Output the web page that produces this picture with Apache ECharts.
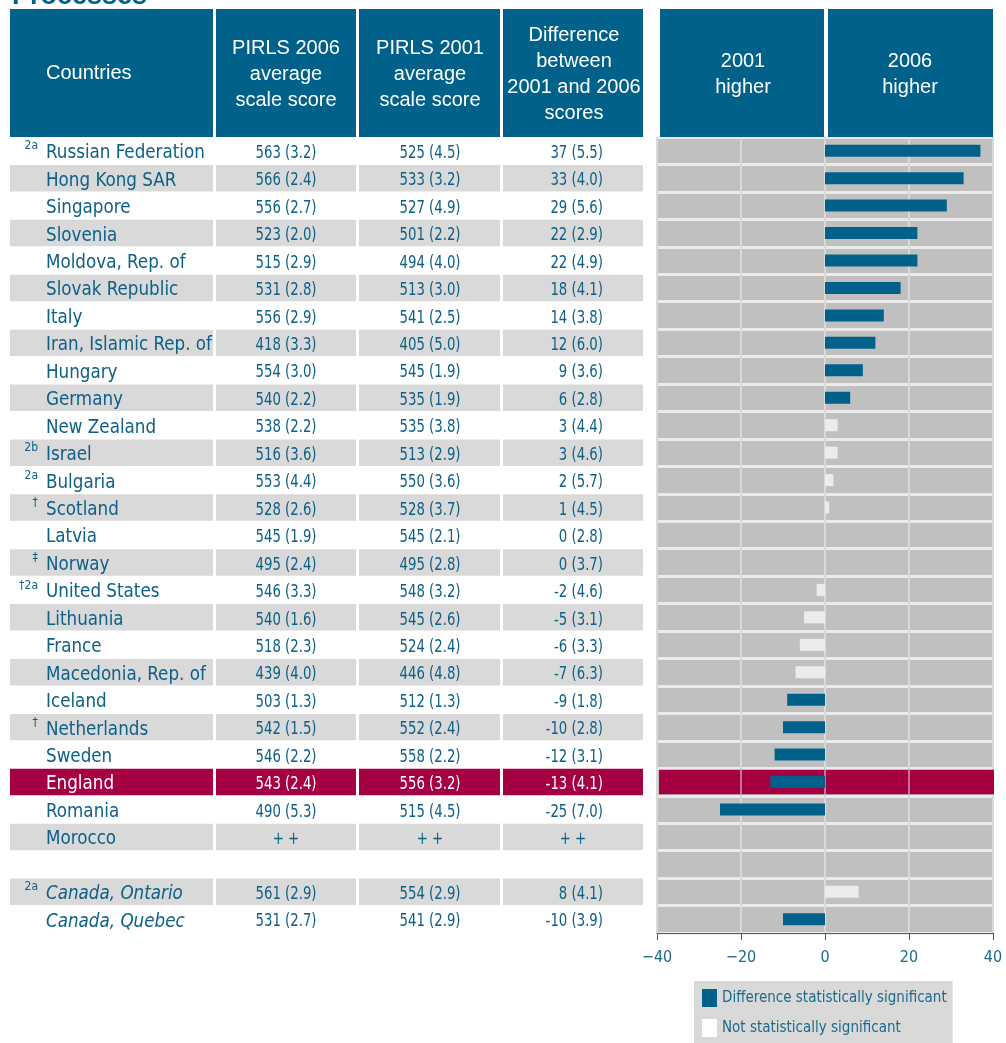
<!DOCTYPE html>
<html>
<head>
<meta charset="utf-8">
<title>PIRLS 2001 / 2006 - Processes</title>
<script src="https://cdn.jsdelivr.net/npm/echarts@6/dist/echarts.min.js"></script>
<style>
    html, body { margin: 0; padding: 0; background: #fff; }
    #chart { width: 1006px; height: 1043px; }
</style>
</head>
<body>
<div id="chart"></div>
<script>
    // rows of the table, top to bottom ('' = the empty spacer row)
    const countries = ['Russian Federation', 'Hong Kong SAR', 'Singapore', 'Slovenia', 'Moldova, Rep. of',
        'Slovak Republic', 'Italy', 'Iran, Islamic Rep. of', 'Hungary', 'Germany', 'New Zealand', 'Israel',
        'Bulgaria', 'Scotland', 'Latvia', 'Norway', 'United States', 'Lithuania', 'France',
        'Macedonia, Rep. of', 'Iceland', 'Netherlands', 'Sweden', 'England', 'Romania', 'Morocco', '',
        'Canada, Ontario', 'Canada, Quebec']
    const notes = ['2a', '', '', '', '', '', '', '', '', '', '', '2b', '2a', '\u2020', '', '\u2021', '\u20202a',
        '', '', '', '', '\u2020', '', '', '', '', '', '2a', '']
    const avg2006 = [563, 566, 556, 523, 515, 531, 556, 418, 554, 540, 538, 516, 553, 528, 545, 495, 546, 540,
        518, 439, 503, 542, 546, 543, 490, null, null, 561, 531]
    const se2006 = [3.2, 2.4, 2.7, 2.0, 2.9, 2.8, 2.9, 3.3, 3.0, 2.2, 2.2, 3.6, 4.4, 2.6, 1.9, 2.4, 3.3, 1.6,
        2.3, 4.0, 1.3, 1.5, 2.2, 2.4, 5.3, null, null, 2.9, 2.7]
    const avg2001 = [525, 533, 527, 501, 494, 513, 541, 405, 545, 535, 535, 513, 550, 528, 545, 495, 548, 545,
        524, 446, 512, 552, 558, 556, 515, null, null, 554, 541]
    const se2001 = [4.5, 3.2, 4.9, 2.2, 4.0, 3.0, 2.5, 5.0, 1.9, 1.9, 3.8, 2.9, 3.6, 3.7, 2.1, 2.8, 3.2, 2.6,
        2.4, 4.8, 1.3, 2.4, 2.2, 3.2, 4.5, null, null, 2.9, 2.9]
    const diff = [37, 33, 29, 22, 22, 18, 14, 12, 9, 6, 3, 3, 2, 1, 0, 0, -2, -5, -6, -7, -9, -10, -12, -13,
        -25, null, null, 8, -10]
    const seDiff = [5.5, 4.0, 5.6, 2.9, 4.9, 4.1, 3.8, 6.0, 3.6, 2.8, 4.4, 4.6, 5.7, 4.5, 2.8, 3.7, 4.6, 3.1,
        3.3, 6.3, 1.8, 2.8, 3.1, 4.1, 7.0, null, null, 4.1, 3.9]
    // 1 = difference statistically significant
    const significant = [1, 1, 1, 1, 1, 1, 1, 1, 1, 1, 0, 0, 0, 0, 0, 0, 0, 0, 0, 0, 1, 1, 1, 1, 1, null, null, 0, 1]
    const italicRows = ['Canada, Ontario', 'Canada, Quebec']
    const highlightRow = 'England'
    const xTicks = [-40, -20, 0, 20, 40]
    const legendNames = ['Difference statistically significant', 'Not statistically significant']

    const BLUE = '#00628a'
    const RED = '#a50044'
    const INK = '#0d6087'
    const narrow = "'Liberation Sans Narrow', 'DejaVu Sans Condensed', 'Roboto Condensed', Roboto, sans-serif"
    const arial = "'Liberation Sans', Arial, sans-serif"

    const hlIndex = countries.indexOf(highlightRow)
    const rowData = countries.map((c, i) => [0, i])

    function score(v, se) {
        return v == null ? '+ +' : v + ' (' + se.toFixed(1) + ')'
    }

    // left-hand table, one group per row
    function tableRow(params, api) {
        const i = params.dataIndex
        const cs = params.coordSys
        const yc = api.coord([0, i])[1]
        const h = api.size([0, 1])[1]
        const hl = i === hlIndex
        const kids = []
        const cells = [[0, 203], [206, 140], [349, 141], [493, 140]]
        const fill = hl ? RED : (i % 2 ? '#d9d9d9' : null)
        if (fill) {
            cells.forEach(c => kids.push({
                type: 'rect',
                shape: {x: cs.x + c[0], y: yc - h / 2 + 0.5, width: c[1], height: h - 1},
                style: {fill}
            }))
        }
        if (!countries[i]) return {type: 'group', children: kids}
        const ink = hl ? '#ffffff' : INK
        const ty = yc + 2.5
        const txt = (x, y, s, align, size, fontStyle, sx) => ({
            type: 'text', x, y, scaleX: sx || 1,
            style: {text: s, fill: ink, align, verticalAlign: 'middle', fontSize: size,
                fontFamily: narrow, fontStyle: fontStyle || 'normal'}
        })
        if (notes[i]) kids.push(txt(cs.x + 28, ty - 7, notes[i], 'right', 12))
        kids.push(txt(cs.x + 36, ty, countries[i], 'left', 19, italicRows.includes(countries[i]) ? 'italic' : 'normal', 0.98))
        kids.push(txt(cs.x + 276, ty, score(avg2006[i], se2006[i]), 'center', 18, null, 0.82))
        kids.push(txt(cs.x + 420, ty, score(avg2001[i], se2001[i]), 'center', 18, null, 0.82))
        if (diff[i] == null) {
            kids.push(txt(cs.x + 563, ty, '+ +', 'center', 18, null, 0.82))
        } else {
            kids.push(txt(cs.x + 593, ty, score(diff[i], seDiff[i]), 'right', 18, null, 0.82))
        }
        return {type: 'group', children: kids}
    }

    // crimson band of the highlighted row inside the plot
    function highlightBand(params, api) {
        const cs = params.coordSys
        const i = api.value(1)
        const yc = api.coord([0, i])[1]
        const h = api.size([0, 1])[1]
        const kids = [{
            type: 'rect',
            shape: {x: cs.x + 2, y: yc - h / 2 + 1.5, width: cs.width - 1, height: h - 3},
            style: {fill: RED}
        }]
        xTicks.slice(1, -1).forEach(v => {
            const x = api.coord([v, i])[0]
            kids.push({
                type: 'line',
                shape: {x1: x, y1: yc - h / 2 + 1.5, x2: x, y2: yc + h / 2 - 1.5},
                style: {stroke: 'rgba(215,215,215,0.55)', lineWidth: 2}
            })
        })
        return {type: 'group', children: kids}
    }

    const headerBoxes = [[10, 203], [216, 140], [359, 141], [503, 140], [660, 164], [828, 165]]
    const headerTexts = [
        {x: 46, y: 73, text: 'Countries', align: 'left'},
        {x: 286, y: 74, text: 'PIRLS 2006\naverage\nscale score', align: 'center'},
        {x: 430, y: 74, text: 'PIRLS 2001\naverage\nscale score', align: 'center'},
        {x: 574, y: 74, text: 'Difference\nbetween\n2001 and 2006\nscores', align: 'center'},
        {x: 743, y: 74, text: '2001\nhigher', align: 'center'},
        {x: 910, y: 74, text: '2006\nhigher', align: 'center'}
    ]

    const graphic = headerBoxes.map(b => ({
        type: 'rect', z: 10,
        shape: {x: b[0], y: 9, width: b[1], height: 128},
        style: {fill: BLUE}
    })).concat(headerTexts.map(t => ({
        type: 'text', z: 11,
        x: t.x, y: t.y,
        style: {text: t.text, fill: '#ffffff', fontSize: 20, fontFamily: arial, lineHeight: 26,
            align: t.align, verticalAlign: 'middle'}
    }))).concat([{
        type: 'text', z: 11, x: 12, y: 10,
        style: {text: 'Processes', fill: BLUE, fontSize: 27, fontWeight: 'bold', fontFamily: arial,
            align: 'left', verticalAlign: 'bottom'}
    }])

    const option = {
        animation: false,
        backgroundColor: '#ffffff',
        graphic,
        grid: [
            {left: 657, right: 13, top: 137, bottom: 110, show: true, backgroundColor: '#c0c0c0', borderWidth: 0},
            {left: 10, width: 633, top: 137, bottom: 110}
        ],
        xAxis: [{
            gridIndex: 0,
            type: 'value',
            min: -40,
            max: 40,
            interval: 20,
            axisLine: {show: true, lineStyle: {color: '#1f6e8e', width: 1}},
            axisTick: {show: true, length: 7, lineStyle: {color: '#1f6e8e'}},
            axisLabel: {
                margin: 17,
                color: '#1b6a8c',
                fontSize: 16,
                fontFamily: narrow,
                formatter: v => v < 0 ? '\u2212' + Math.abs(v) : String(v)
            },
            splitLine: {show: true, lineStyle: {color: '#d9d9d9', width: 2}}
        }, {
            gridIndex: 1,
            type: 'value',
            min: 0,
            max: 1,
            show: false
        }],
        yAxis: [{
            gridIndex: 0,
            type: 'category',
            inverse: true,
            data: countries,
            axisLine: {show: false},
            axisTick: {show: false},
            axisLabel: {show: false},
            splitLine: {show: true, lineStyle: {color: '#ebebeb', width: 3}}
        }, {
            gridIndex: 1,
            type: 'category',
            inverse: true,
            data: countries,
            show: false
        }],
        legend: {
            orient: 'vertical',
            left: 694,
            top: 981,
            padding: [8, 6, 6, 8],
            backgroundColor: '#d9d9d9',
            itemWidth: 15,
            itemHeight: 18,
            itemGap: 12,
            icon: 'rect',
            selectedMode: false,
            textStyle: {color: '#1b6a8c', fontSize: 15, fontFamily: narrow},
            data: [
                {name: legendNames[0], itemStyle: {color: BLUE}},
                {name: legendNames[1], itemStyle: {color: '#ffffff'}}
            ]
        },
        series: [{
            type: 'custom',
            xAxisIndex: 1,
            yAxisIndex: 1,
            renderItem: tableRow,
            data: rowData,
            silent: true
        }, {
            type: 'custom',
            xAxisIndex: 0,
            yAxisIndex: 0,
            z: 1,
            renderItem: highlightBand,
            data: [[0, hlIndex]],
            silent: true
        }, {
            name: legendNames[0],
            type: 'bar',
            z: 3,
            barWidth: 12,
            barGap: '-100%',
            itemStyle: {color: BLUE},
            data: diff.map((d, i) => significant[i] === 1 ? d : null)
        }, {
            name: legendNames[1],
            type: 'bar',
            z: 3,
            barWidth: 12,
            barGap: '-100%',
            itemStyle: {color: '#ececec'},
            data: diff.map((d, i) => significant[i] === 0 ? d : null)
        }]
    }

    const chart = echarts.init(document.getElementById('chart'))
    chart.setOption(option)
</script>
</body>
</html>
